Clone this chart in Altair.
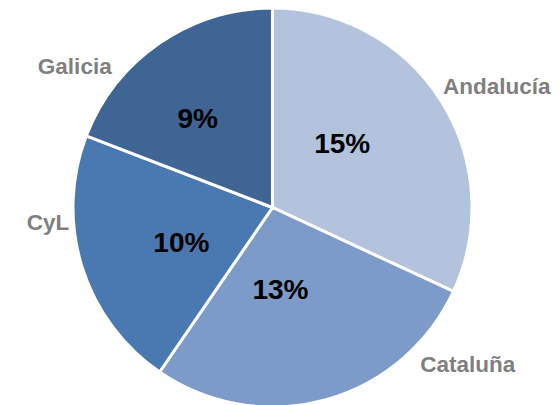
import math
import altair as alt
import pandas as pd

regions = ["Andalucía", "Cataluña", "CyL", "Galicia"]
shares = [15, 13, 10, 9]
colors = ["#b3c3de", "#7d9bc8", "#4a78b0", "#3e6594"]

# layout of the labels (angle nudge from slice middle in degrees, radial distance in px)
pct_nudge = [-9.6, 9.8, -4.3, -5.7]
pct_dist = [94, 83, 98, 116]
name_nudge = [4.1, -36.0, 13.6, -20.0]
name_dist = [255, 250, 225, 243]

total = sum(shares)
rows = []
cum = 0
for i, (r, v) in enumerate(zip(regions, shares)):
    mid = (cum + v / 2) / total * 360
    cum += v
    rows.append({
        "region": r,
        "share": v,
        "order": i,
        "pct": f"{v}%",
        "pct_theta": math.radians(mid + pct_nudge[i]),
        "pct_r": pct_dist[i],
        "name_theta": math.radians(mid + name_nudge[i]),
        "name_r": name_dist[i],
    })
df = pd.DataFrame(rows)

CX, CY, R = 264.5, 199.5, 199.5
base = alt.Chart(df)

pie = base.mark_arc(stroke="white", strokeWidth=3, radius=R).encode(
    theta=alt.Theta("share:Q", stack=True),
    order=alt.Order("order:Q"),
    color=alt.Color("region:N", scale=alt.Scale(domain=regions, range=colors), legend=None),
    x=alt.value(CX),
    y=alt.value(CY),
)

pct = base.mark_text(font="Liberation Sans", fontWeight="bold", fontSize=28,
                     color="black", align="center", baseline="middle", dy=1).encode(
    theta=alt.Theta("pct_theta:Q", scale=None),
    radius=alt.Radius("pct_r:Q", scale=None),
    text="pct:N",
    x=alt.value(CX),
    y=alt.value(CY),
)

names = base.mark_text(font="Liberation Sans", fontWeight="bold", fontSize=22.5,
                       color="#7f7f7f", align="center", baseline="middle", dy=1).encode(
    theta=alt.Theta("name_theta:Q", scale=None),
    radius=alt.Radius("name_r:Q", scale=None),
    text="region:N",
    x=alt.value(CX),
    y=alt.value(CY),
)

chart = alt.layer(pie, pct, names).resolve_scale(theta="independent").properties(
    width=544, height=397, padding=0, autosize="none"
).configure_view(stroke=None)

chart.save("out.html", embed_options={"renderer": "svg", "actions": False})
